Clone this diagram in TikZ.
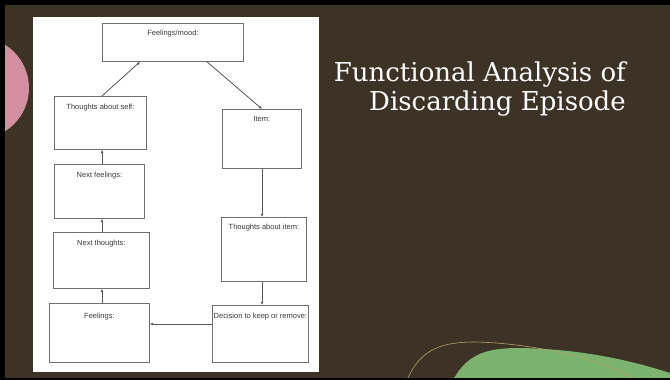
\documentclass[tikz,border=0pt]{standalone}
\usepackage{fontspec}
\setmainfont{DejaVu Serif}
\newfontfamily\boxfont{Liberation Sans}
\usetikzlibrary{arrows.meta}
\definecolor{bgbrown}{HTML}{3D3226}
\definecolor{pinkc}{HTML}{D18F9F}
\definecolor{greenc}{HTML}{7AB26E}
\definecolor{goldc}{HTML}{B5A36A}
\definecolor{boxline}{HTML}{707070}
\definecolor{boxtext}{HTML}{3A3A3A}
\tikzset{
  flowbox/.style={draw=boxline, line width=0.8pt, fill=white, inner sep=0pt, anchor=north west},
  boxlabel/.style={anchor=north, inner sep=0pt, font=\boxfont\fontsize{7.5}{8}\selectfont, text=boxtext},
  flowarrow/.style={draw=boxtext!85, line width=0.8pt, -{Latex[length=3.2pt,width=2.8pt]}},
}
\begin{document}
\begin{tikzpicture}[x=1pt,y=-1pt]
\useasboundingbox (0,0) rectangle (670,380);
% background
\fill[bgbrown] (0,0) rectangle (670,380);
% pink shape
\fill[pinkc] (-22,88) circle[radius=51];
% green shape and gold line
\fill[greenc] (453,380) .. controls (468,352) and (490,348) .. (520,348) .. controls (580,349) and (630,360) .. (670,373) -- (670,380) -- cycle;
\draw[goldc, line width=0.6pt] (407,380) .. controls (420,350) and (440,342) .. (475,342) .. controls (530,343) and (600,358) .. (637,380);
% black frame
\fill[black] (0,0) rectangle (670,5);
\fill[black] (0,0) rectangle (5,380);
\fill[black] (0,378) rectangle (670,380);
% white panel
\fill[white] (33,17) rectangle (319,372);
% boxes
\node[flowbox, minimum width=141pt, minimum height=38pt] (fm) at (102,23) {};
\node[flowbox, minimum width=92pt, minimum height=53pt] (tas) at (54,96) {};
\node[flowbox, minimum width=79pt, minimum height=59pt] (item) at (222,109) {};
\node[flowbox, minimum width=90pt, minimum height=54pt] (nf) at (54,164) {};
\node[flowbox, minimum width=96pt, minimum height=56pt] (nt) at (53,232) {};
\node[flowbox, minimum width=85pt, minimum height=64pt] (tai) at (221,217) {};
\node[flowbox, minimum width=100pt, minimum height=59pt] (fe) at (49,303) {};
\node[flowbox, minimum width=96pt, minimum height=57pt] (dec) at (212,305) {};
% labels
\node[boxlabel] (fml) at ([yshift=-7pt]fm.north) {Feelings/mood:};
\node[boxlabel] (tasl) at ([yshift=-8pt]tas.north) {Thoughts about self:};
\node[boxlabel] (iteml) at ([yshift=-7pt]item.north) {Item:};
\node[boxlabel] (nfl) at ([yshift=-8pt]nf.north) {Next feelings:};
\node[boxlabel] (ntl) at ([yshift=-8pt]nt.north) {Next thoughts:};
\node[boxlabel] (tail) at ([yshift=-7pt]tai.north) {Thoughts about item:};
\node[boxlabel] (fel) at ([yshift=-10pt]fe.north) {Feelings:};
\node[boxlabel] (decl) at ([yshift=-8pt]dec.north) {Decision to keep or remove:};
% arrows
\draw[flowarrow] (tas.north -| 102,0) -- (fm.south -| 140,0);
\draw[flowarrow] (fm.south -| 207,0) -- (item.north -| 262,0);
\draw[flowarrow] (item.south -| 262,0) -- (tai.north -| 262,0);
\draw[flowarrow] (tai.south -| 262,0) -- (dec.north -| 262,0);
\draw[flowarrow] (dec.west |- 0,324) -- (fe.east |- 0,324);
\draw[flowarrow] (fe.north -| 102,0) -- (nt.south -| 102,0);
\draw[flowarrow] (nt.north -| 102,0) -- (nf.south -| 102,0);
\draw[flowarrow] (nf.north -| 102,0) -- (tas.south -| 102,0);
% title
\node[anchor=north east, align=right, text=white, font=\fontsize{26}{29}\selectfont, inner sep=0pt] (title) at (626,62) {Functional Analysis of\\Discarding Episode};
\end{tikzpicture}
\end{document}
